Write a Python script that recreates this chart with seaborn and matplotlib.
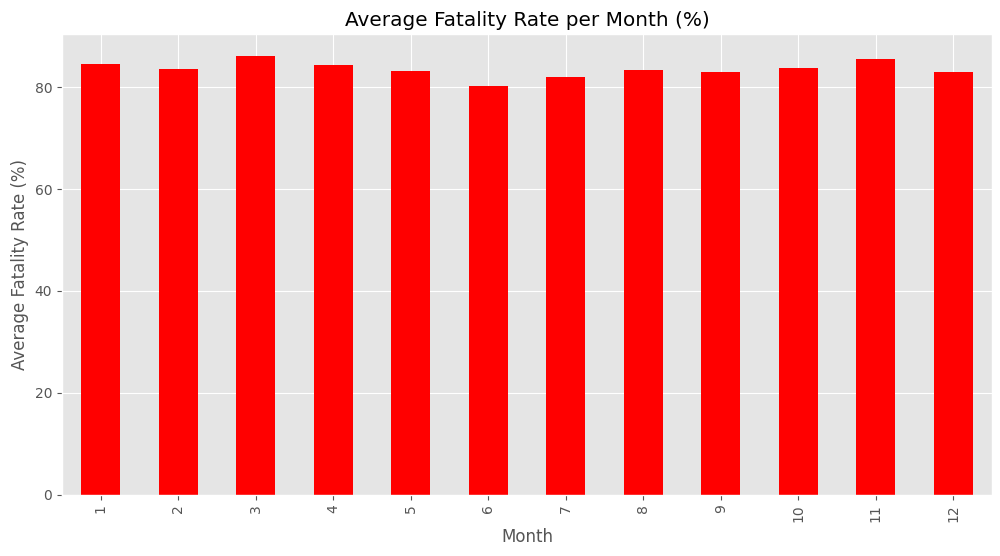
import matplotlib
matplotlib.use("Agg")
import matplotlib.pyplot as plt
import pandas as pd
import seaborn as sns

plt.style.use("ggplot")

months = [1, 2, 3, 4, 5, 6, 7, 8, 9, 10, 11, 12]
fatality_rate = [84.56, 83.58, 86.12, 84.36, 83.19, 80.25,
                 82.01, 83.38, 82.99, 83.77, 85.53, 82.99]

df = pd.DataFrame({"Month": months, "Rate": fatality_rate})

fig, ax = plt.subplots(figsize=(10, 5.56), dpi=100)
sns.barplot(data=df, x="Month", y="Rate", color="red", saturation=1,
            width=0.5, ax=ax)
ax.xaxis.grid(True)
ax.set_xlim(-0.5, 11.5)
ax.set_ylim(0, max(fatality_rate) * 1.05)
ax.tick_params(axis="x", rotation=90)
ax.set_title("Average Fatality Rate per Month (%)")
ax.set_xlabel("Month")
ax.set_ylabel("Average Fatality Rate (%)")
fig.subplots_adjust(left=0.062, right=0.992, top=0.939, bottom=0.11)
fig.savefig("out.png", dpi=100)
